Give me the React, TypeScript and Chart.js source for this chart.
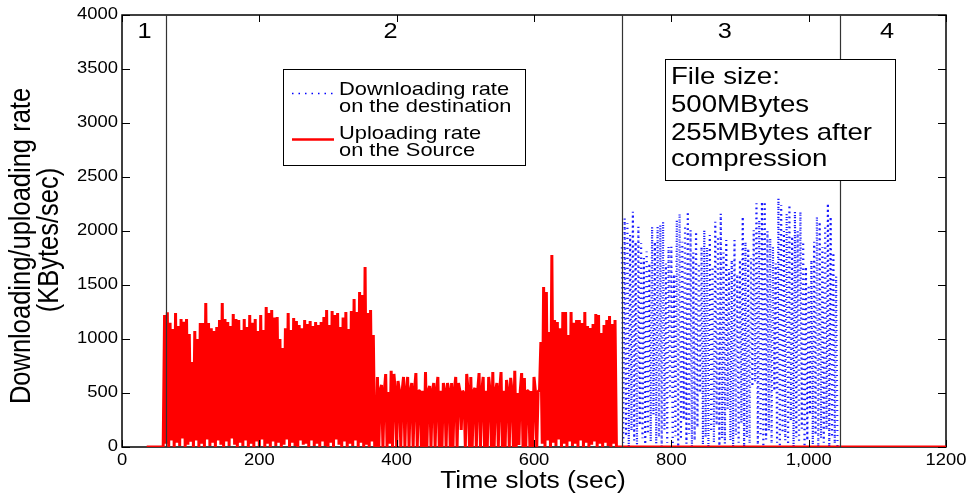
import { useEffect, useRef } from 'react';
import { Chart, registerables } from 'chart.js';

Chart.register(...registerables);

// Upload rate measured on the source, one sample every 2 s starting at t = 36 s
const uploadStart = 36;
const uploadStep = 2;
const uploadRate = [
  0, 0, 0, 0, 0, 0, 0, 0, 0, 0,
  0, 0, 0, 1222, 30, 1247, 0, 1150, 60, 1093,
  0, 1240, 40, 1120, 10, 1185, 80, 1160, 0, 1185,
  20, 1046, 50, 787, 0, 1074, 60, 1000, 0, 1148,
  30, 1148, 0, 1333, 70, 1148, 10, 1100, 40, 1074,
  0, 1111, 60, 1176, 20, 1333, 0, 1185, 50, 1157,
  10, 1120, 80, 1231, 20, 1185, 0, 1176, 40, 1083,
  10, 1185, 60, 1111, 0, 1222, 30, 1150, 0, 1185,
  50, 1074, 10, 1222, 70, 1083, 0, 1296, 30, 1240,
  0, 1268, 50, 1200, 10, 1204, 40, 1000, 0, 917,
  20, 1100, 70, 1240, 0, 1083, 40, 1194, 10, 1167,
  0, 1130, 60, 1100, 20, 1176, 30, 1139, 0, 1167,
  60, 1120, 10, 1157, 30, 1130, 0, 1157, 50, 1204,
  10, 1268, 0, 1130, 40, 1259, 0, 1222, 70, 1240,
  20, 1111, 0, 1200, 50, 1250, 0, 1093, 30, 1259,
  10, 1370, 60, 1250, 0, 1435, 40, 1407, 0, 1667,
  20, 1240, 0, 1268, 50, 1037, 0, 0, 648, 0,
  528, 574, 0, 509, 676, 0, 510, 30, 706, 0,
  676, 520, 0, 611, 520, 0, 520, 648, 0, 520,
  648, 0, 520, 593, 0, 520, 685, 0, 520, 519,
  0, 520, 0, 694, 0, 520, 565, 0, 520, 593,
  0, 520, 648, 0, 520, 0, 593, 520, 0, 593,
  520, 0, 593, 0, 520, 648, 0, 593, 520, 157,
  520, 500, 0, 676, 520, 0, 648, 0, 520, 546,
  0, 520, 685, 0, 520, 648, 0, 520, 0, 648,
  520, 0, 694, 0, 520, 593, 0, 520, 694, 0,
  520, 0, 620, 520, 0, 640, 520, 0, 706, 0,
  500, 20, 520, 685, 0, 639, 0, 520, 519, 0,
  519, 0, 648, 520, 0, 519, 520, 972, 30, 1481,
  0, 1435, 60, 1065, 0, 1778, 40, 1176, 10, 1157,
  70, 1100, 0, 1250, 30, 1250, 0, 1037, 50, 1250,
  10, 1150, 30, 1176, 0, 1176, 60, 1148, 0, 1250,
  40, 1120, 0, 1102, 20, 1139, 50, 1231, 0, 1222,
  30, 1055, 0, 1130, 40, 1176, 10, 1213, 0, 1139,
  30, 1176, 0, 0,
];
// the source stays idle (0 KBytes/sec) until the end of the run
const uploadIdleEnd = 1200;

// Download rate measured on the destination, one sample every 2 s starting at t = 728 s
const downloadStart = 728;
const downloadStep = 2;
const downloadRate = [
  1850, 40, 2117, 100, 2071, 0, 1963, 150, 2179, 60,
  1900, 20, 2040, 200, 1886, 80, 1750, 0, 1809, 120,
  1700, 50, 2040, 300, 1900, 30, 2040, 90, 2056, 0,
  2086, 160, 1700, 40, 1855, 450, 1855, 20, 1600, 100,
  2100, 0, 2161, 70, 1900, 250, 2050, 30, 2179, 120,
  2009, 0, 1800, 60, 1994, 180, 1700, 500, 1855, 20,
  2009, 90, 1850, 0, 1963, 140, 1670, 40, 2086, 200,
  1950, 10, 2161, 80, 1800, 30, 1917, 350, 1650, 60,
  1732, 0, 1917, 110, 1600, 40, 1732, 220, 2133, 0,
  1900, 90, 1840, 30, 1750, 560, 2009, 600, 2256, 20,
  2100, 100, 2272, 0, 2272, 70, 2000, 150, 1932, 30,
  1855, 520, 1700, 40, 2302, 0, 2241, 130, 2000, 60,
  2161, 20, 2241, 240, 1950, 0, 2179, 90, 2000, 40,
  2179, 170, 1900, 0, 1670, 60, 1500, 300, 1732, 20,
  1900, 110, 2133, 0, 2086, 80, 1850, 40, 2050, 160,
  2256, 0, 2133, 90, 1800, 30, 1580, 0,
];

// Transfer phases: boundaries (s) and where each phase number is printed
const phaseBoundaries = [63.5, 728, 1046];
const phaseLabels = ['1', '2', '3', '4'];
const phaseLabelTimes = [33, 391, 878, 1114];
const phaseLabelLevel = 3840;

// Axis ticks
const xTickValues = [0, 200, 400, 600, 800, 1000, 1200];
const xTickLabels = ['0', '200', '400', '600', '800', '1,000', '1200'];
const yTickValues = [0, 500, 1000, 1500, 2000, 2500, 3000, 3500, 4000];
const yTickLabels = ['0', '500', '1000', '1500', '2000', '2500', '3000', '3500', '4000'];

const xTitle = 'Time slots (sec)';
const yTitleLines = ['Downloading/uploading rate', '(KBytes/sec)'];
const downloadLegend = ['Downloading rate', 'on the destination'];
const uploadLegend = ['Uploading rate', 'on the Source'];
const noteLines = ['File size:', '500MBytes', '255MBytes after', 'compression'];

const FONT = '"Liberation Sans", Arial, Helvetica, sans-serif';
const SX = 1.15;

function drawText(
  ctx: CanvasRenderingContext2D,
  text: string,
  x: number,
  y: number,
  size: number,
  align: CanvasTextAlign,
  baseline: CanvasTextBaseline,
) {
  ctx.save();
  ctx.translate(x, y);
  ctx.scale(SX, 1);
  ctx.font = `${size}px ${FONT}`;
  ctx.textAlign = align;
  ctx.textBaseline = baseline;
  ctx.fillStyle = '#000';
  ctx.fillText(text, 0, 0);
  ctx.restore();
}

function drawVerticalText(ctx: CanvasRenderingContext2D, text: string, x: number, y: number, size: number) {
  ctx.save();
  ctx.translate(x, y);
  ctx.scale(SX, 1);
  ctx.rotate(-Math.PI / 2);
  ctx.font = `${size}px ${FONT}`;
  ctx.textAlign = 'center';
  ctx.textBaseline = 'middle';
  ctx.fillStyle = '#000';
  ctx.fillText(text, 0, 0);
  ctx.restore();
}

const decorations = {
  id: 'decorations',
  beforeDatasetsDraw(chart: any) {
    const { ctx, chartArea } = chart;
    const { left, right, top, bottom } = chartArea;
    // axes box sits underneath the traces
    ctx.save();
    ctx.strokeStyle = '#000';
    ctx.lineWidth = 1.5;
    ctx.strokeRect(left, top, right - left, bottom - top);
    ctx.restore();
  },
  afterDatasetsDraw(chart: any) {
    const { ctx, chartArea, scales } = chart;
    const { left, right, top, bottom } = chartArea;
    const xs = scales.x;
    const ys = scales.y;

    ctx.save();

    // phase boundaries
    ctx.strokeStyle = '#333';
    ctx.lineWidth = 1.2;
    phaseBoundaries.forEach((t) => {
      const px = Math.round(xs.getPixelForValue(t)) + 0.5;
      ctx.beginPath();
      ctx.moveTo(px, top);
      ctx.lineTo(px, bottom);
      ctx.stroke();
    });

    // inward ticks on all four sides
    ctx.strokeStyle = '#000';
    ctx.lineWidth = 1;
    const tl = 7;
    ctx.beginPath();
    xTickValues.forEach((v) => {
      const px = Math.round(xs.getPixelForValue(v)) + 0.5;
      ctx.moveTo(px, bottom);
      ctx.lineTo(px, bottom - tl);
      ctx.moveTo(px, top);
      ctx.lineTo(px, top + tl);
    });
    yTickValues.forEach((v) => {
      const py = Math.round(ys.getPixelForValue(v)) + 0.5;
      ctx.moveTo(left, py);
      ctx.lineTo(left + tl + 1, py);
      ctx.moveTo(right, py);
      ctx.lineTo(right - tl - 1, py);
    });
    ctx.stroke();

    // tick labels
    xTickValues.forEach((v, i) => {
      drawText(ctx, xTickLabels[i], xs.getPixelForValue(v), bottom + 14, 16, 'center', 'middle');
    });
    yTickValues.forEach((v, i) => {
      drawText(ctx, yTickLabels[i], left - 4, ys.getPixelForValue(v), 16, 'right', 'middle');
    });

    // axis titles
    drawText(ctx, xTitle, (left + right) / 2 - 1, bottom + 41, 23, 'center', 'alphabetic');
    drawVerticalText(ctx, yTitleLines[0], 22, 246, 25.5);
    drawVerticalText(ctx, yTitleLines[1], 50, 240, 25.5);

    // phase numbers
    phaseLabels.forEach((lab, i) => {
      drawText(ctx, lab, xs.getPixelForValue(phaseLabelTimes[i]), ys.getPixelForValue(phaseLabelLevel), 22, 'center', 'middle');
    });

    // legend
    ctx.fillStyle = '#fff';
    ctx.fillRect(283, 69, 242, 96);
    ctx.strokeStyle = '#000';
    ctx.lineWidth = 1;
    ctx.strokeRect(283.5, 69.5, 242, 96);

    ctx.strokeStyle = '#0000ff';
    ctx.lineWidth = 1.3;
    ctx.setLineDash([1.5, 5]);
    ctx.beginPath();
    ctx.moveTo(292, 93.5);
    ctx.lineTo(334, 93.5);
    ctx.stroke();
    ctx.setLineDash([]);

    ctx.strokeStyle = '#ff0000';
    ctx.lineWidth = 2.5;
    ctx.beginPath();
    ctx.moveTo(292, 139.5);
    ctx.lineTo(334, 139.5);
    ctx.stroke();

    drawText(ctx, downloadLegend[0], 339, 94.5, 19, 'left', 'alphabetic');
    drawText(ctx, downloadLegend[1], 339, 112, 19, 'left', 'alphabetic');
    drawText(ctx, uploadLegend[0], 339, 138.5, 19, 'left', 'alphabetic');
    drawText(ctx, uploadLegend[1], 339, 155.5, 19, 'left', 'alphabetic');

    // file size note
    ctx.fillStyle = '#fff';
    ctx.fillRect(665, 59, 230, 121);
    ctx.strokeStyle = '#000';
    ctx.lineWidth = 1;
    ctx.strokeRect(665.5, 59.5, 230, 121);
    const noteBaselines = [83.5, 111.5, 139.5, 166];
    noteLines.forEach((line, i) => {
      drawText(ctx, line, 671, noteBaselines[i], 24, 'left', 'alphabetic');
    });

    ctx.restore();
  },
};

export default function App() {
  const canvasRef = useRef<HTMLCanvasElement>(null);

  useEffect(() => {
    const canvas = canvasRef.current;
    if (!canvas) return;

    const uploadPoints = uploadRate.map((v, i) => ({ x: uploadStart + i * uploadStep, y: v }));
    uploadPoints.push({ x: uploadIdleEnd, y: 0 });
    const downloadPoints = downloadRate.map((v, i) => ({ x: downloadStart + i * downloadStep, y: v }));

    const chart = new Chart(canvas, {
      type: 'line',
      data: {
        datasets: [
          {
            label: downloadLegend.join(' '),
            data: downloadPoints,
            borderColor: '#1a1aff',
            borderWidth: 2.2,
            borderDash: [1.2, 3.8],
            pointRadius: 0,
            tension: 0,
            fill: false,
            order: 1,
          },
          {
            label: uploadLegend.join(' '),
            data: uploadPoints,
            borderColor: '#ff0000',
            borderWidth: 3,
            borderJoinStyle: 'bevel',
            pointRadius: 0,
            tension: 0,
            fill: false,
            order: 0,
          },
        ],
      },
      options: {
        responsive: false,
        animation: false,
        devicePixelRatio: 1,
        events: [],
        layout: { padding: { left: 122, top: 15, right: 23, bottom: 48 } },
        scales: {
          x: { type: 'linear', min: 0, max: 1200, display: false },
          y: { type: 'linear', min: 0, max: 4000, display: false },
        },
        plugins: {
          legend: { display: false },
          tooltip: { enabled: false },
        },
      },
      plugins: [decorations],
    } as any);

    return () => chart.destroy();
  }, []);

  return (
    <div style={{ position: 'absolute', left: 0, top: 0, width: 969, height: 495, background: '#fff' }}>
      <canvas ref={canvasRef} width={969} height={495} style={{ display: 'block' }} />
    </div>
  );
}
